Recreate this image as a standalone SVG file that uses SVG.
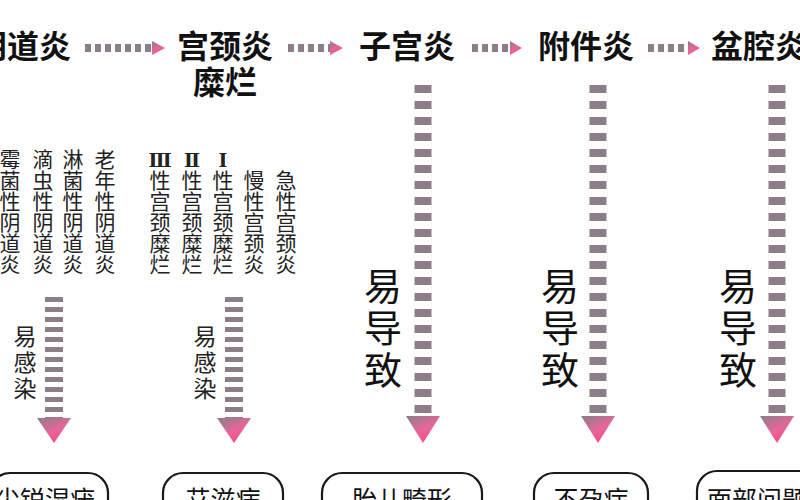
<svg xmlns="http://www.w3.org/2000/svg" width="800" height="500" viewBox="0 0 800 500">
<defs>
<style>
.title{font-family:"Noto Sans CJK SC","Noto Sans",sans-serif;font-weight:700;font-size:32px;fill:#111;text-anchor:middle}
.small{font-family:"Noto Sans CJK SC","DejaVu Sans",sans-serif;font-size:21px;fill:#222;text-anchor:middle}
.roman{font-family:"DejaVu Serif","Noto Sans CJK SC",serif;font-weight:700;font-size:19px}
.lab{font-family:"Noto Sans CJK SC",sans-serif;font-size:23px;fill:#222;text-anchor:middle}
.big{font-family:"Noto Sans CJK SC",sans-serif;font-size:38px;fill:#111;text-anchor:middle}
.box{fill:#fff;stroke:#1a1a1a;stroke-width:2.2}
.boxt{font-family:"Noto Sans CJK SC",sans-serif;font-size:25px;fill:#111;text-anchor:middle}
.dash{fill:none;stroke:#8b7e88}
.glow{fill:none;stroke:#f7a9c8;opacity:0.6}
.head{fill:url(#hg)}
</style>
<linearGradient id="hg" x1="0" y1="0" x2="0.6" y2="1">
<stop offset="0" stop-color="#8b7e88"/>
<stop offset="0.6" stop-color="#e8669a"/>
<stop offset="1" stop-color="#f5478a"/>
</linearGradient>
<filter id="blur" x="-1" y="-1" width="3" height="3"><feGaussianBlur stdDeviation="3"/></filter>
</defs>
<rect width="800" height="500" fill="#fefefe"/>

<g id="connectors">
  <line class="glow" x1="85" y1="52" x2="158" y2="52" stroke-width="8" filter="url(#blur)"/>
  <line class="dash" x1="85" y1="48" x2="152" y2="48" stroke-width="8" stroke-dasharray="6 4"/>
  <polygon class="head" points="152,41 165,48 152,55"/>
  <line class="glow" x1="288" y1="52" x2="338" y2="52" stroke-width="8" filter="url(#blur)"/>
  <line class="dash" x1="288" y1="48" x2="330" y2="48" stroke-width="8" stroke-dasharray="6 4"/>
  <polygon class="head" points="330,41 343,48 330,55"/>
  <line class="glow" x1="472" y1="52" x2="518" y2="52" stroke-width="8" filter="url(#blur)"/>
  <line class="dash" x1="472" y1="48" x2="510" y2="48" stroke-width="8" stroke-dasharray="6 4"/>
  <polygon class="head" points="510,41 522,48 510,55"/>
  <line class="glow" x1="648" y1="52" x2="695" y2="52" stroke-width="8" filter="url(#blur)"/>
  <line class="dash" x1="648" y1="48" x2="688" y2="48" stroke-width="8" stroke-dasharray="6 4"/>
  <polygon class="head" points="688,41 700,48 688,55"/>
  <line class="glow" x1="60" y1="297" x2="60" y2="440" stroke-width="14" filter="url(#blur)"/>
  <line class="dash" x1="54" y1="297" x2="54" y2="418" stroke-width="18" stroke-dasharray="5 5"/>
  <polygon class="head" points="37,418 71,418 54,443"/>
  <line class="glow" x1="240" y1="297" x2="240" y2="440" stroke-width="14" filter="url(#blur)"/>
  <line class="dash" x1="234" y1="297" x2="234" y2="418" stroke-width="18" stroke-dasharray="5 5"/>
  <polygon class="head" points="217,418 251,418 234,443"/>
  <line class="glow" x1="429" y1="85" x2="429" y2="440" stroke-width="14" filter="url(#blur)"/>
  <line class="dash" x1="423" y1="85" x2="423" y2="416" stroke-width="17" stroke-dasharray="8 8"/>
  <polygon class="head" points="406,416 440,416 423,443"/>
  <line class="glow" x1="604" y1="85" x2="604" y2="440" stroke-width="14" filter="url(#blur)"/>
  <line class="dash" x1="598" y1="85" x2="598" y2="416" stroke-width="17" stroke-dasharray="8 8"/>
  <polygon class="head" points="581,416 615,416 598,443"/>
  <line class="glow" x1="783" y1="85" x2="783" y2="440" stroke-width="14" filter="url(#blur)"/>
  <line class="dash" x1="777" y1="85" x2="777" y2="416" stroke-width="17" stroke-dasharray="8 8"/>
  <polygon class="head" points="760,416 794,416 777,443"/>
  <text class="lab"><tspan x="25" y="345">易</tspan><tspan x="25" y="371">感</tspan><tspan x="25" y="397">染</tspan></text>
  <text class="lab"><tspan x="205" y="345">易</tspan><tspan x="205" y="371">感</tspan><tspan x="205" y="397">染</tspan></text>
  <text class="big"><tspan x="383" y="300">易</tspan><tspan x="383" y="342">导</tspan><tspan x="383" y="384">致</tspan></text>
  <text class="big"><tspan x="560" y="300">易</tspan><tspan x="560" y="342">导</tspan><tspan x="560" y="384">致</tspan></text>
  <text class="big"><tspan x="738" y="300">易</tspan><tspan x="738" y="342">导</tspan><tspan x="738" y="384">致</tspan></text>
</g>

<g id="n-yindaoyan"><text class="title" x="23" y="58">阴道炎</text></g>
<g id="n-gongjing"><text class="title" x="225" y="58">宫颈炎</text><text class="title" x="225" y="94">糜烂</text></g>
<g id="n-zigong"><text class="title" x="407" y="58">子宫炎</text></g>
<g id="n-fujian"><text class="title" x="586" y="58">附件炎</text></g>
<g id="n-penqiang"><text class="title" x="759" y="58">盆腔炎</text></g>

<g id="n-types">
  <text class="small"><tspan x="10" y="167">霉</tspan><tspan x="10" y="188">菌</tspan><tspan x="10" y="209">性</tspan><tspan x="10" y="230">阴</tspan><tspan x="10" y="251">道</tspan><tspan x="10" y="272">炎</tspan></text>
  <text class="small"><tspan x="43" y="167">滴</tspan><tspan x="43" y="188">虫</tspan><tspan x="43" y="209">性</tspan><tspan x="43" y="230">阴</tspan><tspan x="43" y="251">道</tspan><tspan x="43" y="272">炎</tspan></text>
  <text class="small"><tspan x="73" y="167">淋</tspan><tspan x="73" y="188">菌</tspan><tspan x="73" y="209">性</tspan><tspan x="73" y="230">阴</tspan><tspan x="73" y="251">道</tspan><tspan x="73" y="272">炎</tspan></text>
  <text class="small"><tspan x="105" y="167">老</tspan><tspan x="105" y="188">年</tspan><tspan x="105" y="209">性</tspan><tspan x="105" y="230">阴</tspan><tspan x="105" y="251">道</tspan><tspan x="105" y="272">炎</tspan></text>
  <text class="small"><tspan class="roman" x="160" y="167">Ⅲ</tspan><tspan x="160" y="188">性</tspan><tspan x="160" y="209">宫</tspan><tspan x="160" y="230">颈</tspan><tspan x="160" y="251">糜</tspan><tspan x="160" y="272">烂</tspan></text>
  <text class="small"><tspan class="roman" x="192" y="167">Ⅱ</tspan><tspan x="192" y="188">性</tspan><tspan x="192" y="209">宫</tspan><tspan x="192" y="230">颈</tspan><tspan x="192" y="251">糜</tspan><tspan x="192" y="272">烂</tspan></text>
  <text class="small"><tspan class="roman" x="223" y="167">Ⅰ</tspan><tspan x="223" y="188">性</tspan><tspan x="223" y="209">宫</tspan><tspan x="223" y="230">颈</tspan><tspan x="223" y="251">糜</tspan><tspan x="223" y="272">烂</tspan></text>
  <text class="small"><tspan x="254" y="188">慢</tspan><tspan x="254" y="209">性</tspan><tspan x="254" y="230">宫</tspan><tspan x="254" y="251">颈</tspan><tspan x="254" y="272">炎</tspan></text>
  <text class="small"><tspan x="286" y="188">急</tspan><tspan x="286" y="209">性</tspan><tspan x="286" y="230">宫</tspan><tspan x="286" y="251">颈</tspan><tspan x="286" y="272">炎</tspan></text>
</g>

<g id="n-jianrui"><rect class="box" x="-10" y="473" width="118" height="60" rx="20"/><text class="boxt" x="45" y="509">尖锐湿疣</text></g>
<g id="n-aizi"><rect class="box" x="163" y="473" width="120" height="60" rx="20"/><text class="boxt" x="223" y="509">艾滋病</text></g>
<g id="n-taier"><rect class="box" x="322" y="473" width="160" height="60" rx="20"/><text class="boxt" x="402" y="509">胎儿畸形</text></g>
<g id="n-buyun"><rect class="box" x="534" y="473" width="114" height="60" rx="20"/><text class="boxt" x="591" y="509">不孕症</text></g>
<g id="n-mianbu"><rect class="box" x="697" y="471" width="130" height="60" rx="20"/><text class="boxt" x="757" y="509">面部问题</text></g>
</svg>
